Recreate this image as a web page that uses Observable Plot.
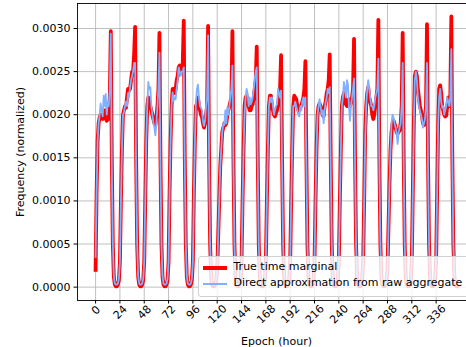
<!DOCTYPE html>
<html>
<head>
<meta charset="utf-8">
<script src="https://cdn.jsdelivr.net/npm/d3@7"></script>
<script src="https://cdn.jsdelivr.net/npm/@observablehq/plot@0.6"></script>
<style>
  html, body { margin: 0; padding: 0; background: white; }
  #wrap { position: relative; width: 466px; height: 347px; overflow: hidden; background: white; }
  #wrap svg { max-width: none !important; display: block; }
  #legend { position: absolute; left: 198px; top: 255.5px; width: 290px; height: 41px;
            border: 1px solid #d0d0d0; border-radius: 3px; background: rgba(255,255,255,0.8);
            font-family: "DejaVu Sans", sans-serif; font-size: 11px; color: black; box-sizing: border-box; }
  .hdl { position: absolute; left: 3.5px; width: 24px; }
  .lbl { position: absolute; left: 34.5px; line-height: 16px; white-space: nowrap; }
</style>
</head>
<body>
<div id="wrap"></div>
<script>
// Series labels
const seriesNames = ["True time marginal", "Direct approximation from raw aggregate"];
const seriesColors = ["#ff0000", "#80b0ff"];

// Hourly values (one line per day, hours 0..23 of each day)
const trueMarginal = [
  0.00020,0.00110,0.00170,0.00190,0.00197,0.00200,0.00199,0.00195,0.00200,0.00205,0.00196,0.00193,0.00210,0.00195,0.00220,0.00297,0.00150,0.00050,0.00012,0.00003,0.00001,0.00001,0.00003,0.00008,
  0.00030,0.00100,0.00160,0.00200,0.00205,0.00210,0.00208,0.00220,0.00230,0.00228,0.00230,0.00240,0.00250,0.00250,0.00270,0.00302,0.00150,0.00050,0.00012,0.00003,0.00001,0.00001,0.00003,0.00008,
  0.00030,0.00100,0.00170,0.00210,0.00220,0.00215,0.00210,0.00205,0.00200,0.00195,0.00190,0.00188,0.00197,0.00210,0.00230,0.00295,0.00150,0.00050,0.00012,0.00003,0.00001,0.00001,0.00003,0.00008,
  0.00030,0.00110,0.00170,0.00210,0.00230,0.00230,0.00225,0.00230,0.00240,0.00245,0.00255,0.00257,0.00250,0.00255,0.00260,0.00309,0.00150,0.00050,0.00012,0.00003,0.00001,0.00001,0.00003,0.00008,
  0.00030,0.00110,0.00170,0.00210,0.00213,0.00220,0.00210,0.00205,0.00200,0.00197,0.00190,0.00185,0.00190,0.00200,0.00210,0.00303,0.00150,0.00050,0.00012,0.00003,0.00001,0.00001,0.00003,0.00008,
  0.00020,0.00060,0.00100,0.00140,0.00160,0.00180,0.00185,0.00190,0.00188,0.00190,0.00200,0.00205,0.00210,0.00215,0.00220,0.00297,0.00150,0.00050,0.00012,0.00003,0.00001,0.00001,0.00003,0.00008,
  0.00030,0.00100,0.00160,0.00210,0.00220,0.00222,0.00215,0.00210,0.00205,0.00205,0.00210,0.00212,0.00220,0.00230,0.00240,0.00279,0.00150,0.00050,0.00012,0.00003,0.00001,0.00001,0.00003,0.00008,
  0.00030,0.00100,0.00160,0.00210,0.00222,0.00222,0.00210,0.00205,0.00200,0.00198,0.00202,0.00205,0.00212,0.00220,0.00230,0.00269,0.00150,0.00050,0.00012,0.00003,0.00001,0.00001,0.00003,0.00008,
  0.00030,0.00100,0.00160,0.00210,0.00222,0.00220,0.00218,0.00210,0.00205,0.00205,0.00210,0.00210,0.00215,0.00220,0.00230,0.00262,0.00150,0.00050,0.00012,0.00003,0.00001,0.00001,0.00003,0.00008,
  0.00030,0.00100,0.00160,0.00200,0.00210,0.00213,0.00210,0.00205,0.00200,0.00198,0.00210,0.00215,0.00225,0.00230,0.00240,0.00270,0.00150,0.00050,0.00012,0.00003,0.00001,0.00001,0.00003,0.00008,
  0.00030,0.00100,0.00160,0.00210,0.00220,0.00225,0.00220,0.00212,0.00210,0.00215,0.00218,0.00210,0.00215,0.00220,0.00230,0.00288,0.00150,0.00050,0.00012,0.00003,0.00001,0.00001,0.00003,0.00008,
  0.00030,0.00100,0.00180,0.00210,0.00225,0.00232,0.00220,0.00215,0.00210,0.00200,0.00195,0.00200,0.00210,0.00220,0.00230,0.00310,0.00150,0.00050,0.00012,0.00003,0.00001,0.00001,0.00003,0.00008,
  0.00020,0.00070,0.00120,0.00160,0.00180,0.00190,0.00193,0.00190,0.00185,0.00180,0.00178,0.00180,0.00182,0.00190,0.00210,0.00295,0.00150,0.00050,0.00012,0.00003,0.00001,0.00001,0.00003,0.00008,
  0.00030,0.00110,0.00190,0.00245,0.00250,0.00245,0.00230,0.00220,0.00210,0.00205,0.00200,0.00190,0.00188,0.00190,0.00210,0.00305,0.00150,0.00050,0.00012,0.00003,0.00001,0.00001,0.00003,0.00008,
  0.00030,0.00110,0.00190,0.00230,0.00234,0.00225,0.00210,0.00205,0.00200,0.00198,0.00199,0.00210,0.00220,0.00210,0.00220,0.00314,0.00150,0.00050,0.00012,0.00003,0.00001,0.00001
];
const directApprox = [
  0.00035,0.00110,0.00170,0.00190,0.00200,0.00213,0.00205,0.00198,0.00222,0.00210,0.00224,0.00200,0.00215,0.00210,0.00230,0.00294,0.00140,0.00050,0.00013,0.00004,0.00003,0.00003,0.00004,0.00010,
  0.00030,0.00100,0.00160,0.00200,0.00203,0.00210,0.00215,0.00210,0.00225,0.00220,0.00232,0.00240,0.00245,0.00250,0.00260,0.00260,0.00140,0.00050,0.00013,0.00004,0.00003,0.00003,0.00004,0.00010,
  0.00030,0.00100,0.00170,0.00210,0.00238,0.00230,0.00232,0.00210,0.00200,0.00191,0.00185,0.00176,0.00190,0.00210,0.00230,0.00272,0.00140,0.00050,0.00013,0.00004,0.00003,0.00003,0.00004,0.00010,
  0.00030,0.00110,0.00170,0.00210,0.00226,0.00216,0.00220,0.00218,0.00230,0.00240,0.00255,0.00250,0.00245,0.00250,0.00250,0.00255,0.00140,0.00050,0.00013,0.00004,0.00003,0.00003,0.00004,0.00010,
  0.00030,0.00110,0.00170,0.00215,0.00230,0.00235,0.00220,0.00210,0.00208,0.00205,0.00192,0.00187,0.00193,0.00210,0.00220,0.00292,0.00140,0.00050,0.00013,0.00004,0.00003,0.00003,0.00004,0.00010,
  0.00020,0.00060,0.00100,0.00140,0.00160,0.00180,0.00190,0.00188,0.00205,0.00190,0.00208,0.00200,0.00210,0.00220,0.00230,0.00257,0.00140,0.00050,0.00013,0.00004,0.00003,0.00003,0.00004,0.00010,
  0.00030,0.00100,0.00160,0.00200,0.00220,0.00230,0.00225,0.00210,0.00220,0.00212,0.00215,0.00220,0.00230,0.00240,0.00250,0.00255,0.00140,0.00050,0.00013,0.00004,0.00003,0.00003,0.00004,0.00010,
  0.00030,0.00100,0.00160,0.00210,0.00220,0.00215,0.00220,0.00210,0.00200,0.00205,0.00210,0.00212,0.00230,0.00225,0.00220,0.00228,0.00140,0.00050,0.00013,0.00004,0.00003,0.00003,0.00004,0.00010,
  0.00030,0.00100,0.00160,0.00210,0.00210,0.00215,0.00210,0.00205,0.00200,0.00198,0.00210,0.00205,0.00215,0.00220,0.00210,0.00220,0.00140,0.00050,0.00013,0.00004,0.00003,0.00003,0.00004,0.00010,
  0.00030,0.00100,0.00160,0.00200,0.00210,0.00218,0.00210,0.00200,0.00205,0.00190,0.00205,0.00215,0.00220,0.00230,0.00225,0.00232,0.00140,0.00050,0.00013,0.00004,0.00003,0.00003,0.00004,0.00010,
  0.00030,0.00100,0.00160,0.00210,0.00220,0.00238,0.00230,0.00220,0.00240,0.00235,0.00210,0.00193,0.00210,0.00220,0.00230,0.00242,0.00140,0.00050,0.00013,0.00004,0.00003,0.00003,0.00004,0.00010,
  0.00030,0.00100,0.00170,0.00210,0.00230,0.00240,0.00230,0.00220,0.00210,0.00210,0.00205,0.00210,0.00220,0.00225,0.00230,0.00265,0.00140,0.00050,0.00013,0.00004,0.00003,0.00003,0.00004,0.00010,
  0.00020,0.00070,0.00120,0.00160,0.00190,0.00200,0.00197,0.00190,0.00185,0.00178,0.00166,0.00180,0.00185,0.00190,0.00210,0.00260,0.00140,0.00050,0.00013,0.00004,0.00003,0.00003,0.00004,0.00010,
  0.00030,0.00110,0.00190,0.00240,0.00250,0.00240,0.00220,0.00210,0.00205,0.00200,0.00195,0.00185,0.00190,0.00195,0.00210,0.00260,0.00140,0.00050,0.00013,0.00004,0.00003,0.00003,0.00004,0.00010,
  0.00030,0.00110,0.00190,0.00220,0.00230,0.00215,0.00208,0.00210,0.00200,0.00205,0.00210,0.00220,0.00215,0.00210,0.00220,0.00276,0.00140,0.00050,0.00013,0.00004,0.00003,0.00003
];

const xTicks = [0, 24, 48, 72, 96, 120, 144, 168, 192, 216, 240, 264, 288, 312, 336];
const yTicks = [0, 0.0005, 0.0010, 0.0015, 0.0020, 0.0025, 0.0030];
const xLabel = "Epoch (hour)";
const yLabel = "Frequency (normalized)";

const rows = [];
trueMarginal.forEach((v, i) => rows.push({hour: i, value: v, series: seriesNames[0]}));
directApprox.forEach((v, i) => rows.push({hour: i, value: v, series: seriesNames[1]}));

const fs = 11;
const tickText = (ticks, dy) => Plot.text(ticks, {
  x: d => d, frameAnchor: "bottom", text: d => String(d), rotate: -45,
  textAnchor: "middle", lineAnchor: "bottom", dx: 2.8, dy, fontSize: fs, fill: "black"
});

const chart = Plot.plot({
  width: 475, height: 347,
  marginLeft: 77, marginRight: 0, marginTop: 3, marginBottom: 47,
  style: {fontFamily: "DejaVu Sans, sans-serif", fontSize: fs + "px", background: "white", color: "black"},
  x: {domain: [-17.85, 374.85]},
  y: {domain: [-0.000155, 0.00329]},
  marks: [
    Plot.gridX(xTicks, {stroke: "#b0b0b0", strokeOpacity: 1, strokeWidth: 0.8}),
    Plot.gridY(yTicks, {stroke: "#b0b0b0", strokeOpacity: 1, strokeWidth: 0.8}),
    Plot.line(rows.filter(d => d.series === seriesNames[0]), {
      x: "hour", y: "value", stroke: seriesColors[0], strokeWidth: 3.8,
      strokeLinejoin: "round", strokeLinecap: "square"
    }),
    Plot.line(rows.filter(d => d.series === seriesNames[1]), {
      x: "hour", y: "value", stroke: seriesColors[1], strokeWidth: 1.8,
      strokeLinejoin: "round", strokeLinecap: "square"
    }),
    Plot.frame({stroke: "black", strokeWidth: 0.9}),
    Plot.axisY(yTicks, {tickSize: 3.5, tickPadding: 3.5, tickFormat: d3.format(".4f"), label: null, fontSize: fs}),
    Plot.axisX(xTicks, {tickSize: 3.5, tickFormat: () => "", label: null}),
    tickText(xTicks.filter(d => String(d).length === 1), 12.3),
    tickText(xTicks.filter(d => String(d).length === 2), 14.3),
    tickText(xTicks.filter(d => String(d).length === 3), 16.3),
    Plot.text([xLabel], {frameAnchor: "bottom", text: d => d, lineAnchor: "top", dy: 37, fontSize: fs, fill: "black"}),
    Plot.text([yLabel], {frameAnchor: "left", text: d => d, rotate: -90, lineAnchor: "middle", textAnchor: "middle", dx: -57, fontSize: fs, fill: "black"})
  ]
});

const wrap = document.getElementById("wrap");
wrap.appendChild(chart);

// Legend (lower right, semi-transparent like the reference)
const legend = document.createElement("div");
legend.id = "legend";
const lineWidths = [3.8, 1.8];
const rowCenters = [11.8, 27.8];
seriesNames.forEach((name, i) => {
  const h = document.createElement("div");
  h.className = "hdl";
  h.style.top = (rowCenters[i] - lineWidths[i] / 2) + "px";
  h.style.height = lineWidths[i] + "px";
  h.style.background = seriesColors[i];
  legend.appendChild(h);
  const t = document.createElement("div");
  t.className = "lbl";
  t.style.top = (rowCenters[i] - 8 - 1) + "px";
  t.textContent = name;
  legend.appendChild(t);
});
wrap.appendChild(legend);
</script>
</body>
</html>
